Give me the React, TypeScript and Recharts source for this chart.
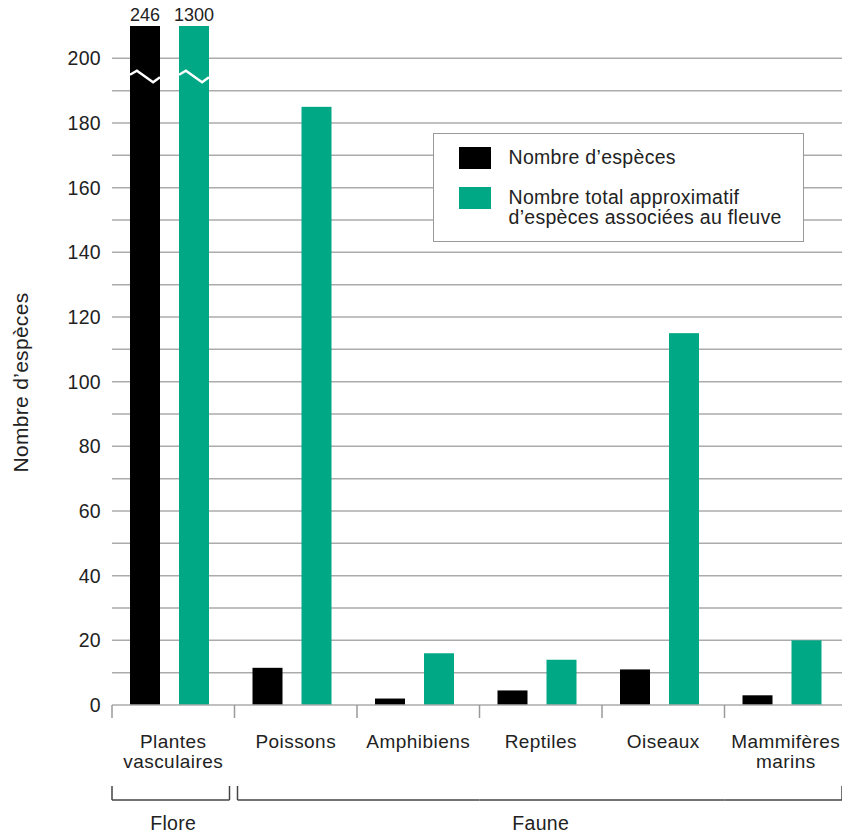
import React from 'react';
import { BarChart, Bar, XAxis, YAxis, CartesianGrid, Legend } from 'recharts';

const categories = ['Plantes\nvasculaires', 'Poissons', 'Amphibiens', 'Reptiles', 'Oiseaux', 'Mammifères\nmarins'];
const nombreEspeces = [246, 11.5, 2, 4.5, 11, 3];
const totalFleuve = [1300, 185, 16, 14, 115, 20];
const groups = [
  { label: 'Flore', first: 0, last: 0 },
  { label: 'Faune', first: 1, last: 5 },
];
const yTicks = [0, 20, 40, 60, 80, 100, 120, 140, 160, 180, 200];
const gridValues = [10, 20, 30, 40, 50, 60, 70, 80, 90, 100, 110, 120, 130, 140, 150, 160, 170, 180, 190, 200];
const AXIS_MAX = 210;
const BREAK_AT = 194.3;

const FONT = '"Liberation Sans", Arial, Helvetica, sans-serif';
const TEXT = '#222';
const GREEN = '#00A886';
const GRID = '#ababab';
const FS = 19.5;
const LS = 0.3;

// bars above the axis max are drawn cut off at the top, with the real value kept for the label
const data = categories.map((name, i) => ({
  name,
  especes: Math.min(nombreEspeces[i], AXIS_MAX),
  especesReel: nombreEspeces[i],
  total: Math.min(totalFleuve[i], AXIS_MAX),
  totalReel: totalFleuve[i],
}));

const makeShape = (realKey: string) => (props: any) => {
  const { x, y, width, height, fill, payload, value } = props;
  const bx = x - 4;
  const real = payload[realKey];
  const cut = real > AXIS_MAX;
  const pxPerUnit = value > 0 ? height / value : 0;
  const by = y + height - BREAK_AT * pxPerUnit;
  return (
    <g>
      <rect x={bx} y={y} width={width} height={height} fill={fill} />
      {cut && (
        <>
          <polyline
            points={`${bx},${by - 2} ${bx + width * 0.23},${by - 6} ${bx + width * 0.77},${by + 5.5} ${bx + width},${by + 0.5}`}
            fill="none"
            stroke="#fff"
            strokeWidth={2.5}
          />
          <text x={bx + width / 2} y={y - 5} textAnchor="middle" fontFamily={FONT} fontSize={18} fill={TEXT}>
            {real}
          </text>
        </>
      )}
    </g>
  );
};

const CategoryTick = (props: any) => {
  const { x, y, payload, index } = props;
  const half = payload.offset || 61;
  const left = x - half;
  const right = x + half;
  const lines = String(payload.value).split('\n');
  const group = groups.find(g => index >= g.first && index <= g.last)!;
  const isFirst = index === group.first;
  const isLast = index === group.last;
  const segLeft = left + (isFirst && index > 0 ? 3 : 0);
  const segRight = right - (isLast ? 5 : 0);
  const bracketY = y + 95;
  const groupCenter = left + ((group.last - group.first + 1) * half * 2) / 2;
  return (
    <g>
      <line x1={left} y1={y} x2={left} y2={y + 13} stroke="#9a9a9a" strokeWidth={1.5} />
      {lines.map((l, i) => (
        <text key={i} x={x} y={y + 42.5 + i * 20} textAnchor="middle" fontFamily={FONT} fontSize={19} letterSpacing={0.45} fill={TEXT}>
          {l}
        </text>
      ))}
      <line x1={segLeft} y1={bracketY} x2={segRight} y2={bracketY} stroke="#444" strokeWidth={1.5} />
      {isFirst && <line x1={segLeft} y1={bracketY - 14} x2={segLeft} y2={bracketY} stroke="#444" strokeWidth={1.5} />}
      {isLast && <line x1={segRight} y1={bracketY - 14} x2={segRight} y2={bracketY} stroke="#444" strokeWidth={1.5} />}
      {isFirst && (
        <text x={groupCenter} y={y + 125} textAnchor="middle" fontFamily={FONT} fontSize={FS} letterSpacing={LS} fill={TEXT}>
          {group.label}
        </text>
      )}
    </g>
  );
};

const LegendBox = (props: any) => {
  const items = props.payload || [];
  return (
    <div
      style={{
        width: 371,
        height: 109,
        boxSizing: 'border-box',
        border: '1.5px solid #9a9a9a',
        background: '#fff',
        position: 'relative',
        fontFamily: FONT,
        fontSize: FS,
        letterSpacing: LS,
        color: TEXT,
        lineHeight: '19.5px',
        textAlign: 'left',
      }}
    >
      {items.map((it: any, i: number) => (
        <React.Fragment key={i}>
          <div style={{ position: 'absolute', left: 24.5, top: i === 0 ? 12.8 : 52.8, width: 32, height: 22.5, background: it.color }} />
          <div style={{ position: 'absolute', left: 74.5, top: i === 0 ? 14.3 : 54.3, whiteSpace: 'pre' }}>{it.value}</div>
        </React.Fragment>
      ))}
    </div>
  );
};

export default function App() {
  return (
    <div style={{ position: 'absolute', left: 0, top: 0, width: 842, height: 834, overflow: 'hidden', background: '#fff' }}>
      <BarChart
        width={847}
        height={834}
        data={data}
        margin={{ top: 26, right: 0, left: 0, bottom: 0 }}
        barGap={19}
        barSize={30}
      >
        <CartesianGrid vertical={false} horizontalValues={gridValues} stroke={GRID} strokeWidth={1.5} />
        <XAxis
          dataKey="name"
          height={129}
          interval={0}
          tickLine={false}
          tickSize={0}
          tickMargin={0}
          axisLine={{ stroke: GRID, strokeWidth: 1.5 }}
          tick={<CategoryTick />}
        />
        <YAxis
          width={112}
          domain={[0, AXIS_MAX]}
          ticks={yTicks}
          interval={0}
          axisLine={false}
          tickLine={false}
          tickMargin={5}
          tick={{ fontFamily: FONT, fontSize: FS, letterSpacing: LS, fill: TEXT }}
          label={(p: any) => {
            const vb = p.viewBox || { x: 0, y: 26, width: 112, height: 679 };
            const cx = 20;
            const cy = vb.y + vb.height / 2 + 17;
            return (
              <text
                x={cx}
                y={cy}
                transform={`rotate(-90 ${cx} ${cy})`}
                textAnchor="middle"
                dominantBaseline="central"
                fontFamily={FONT}
                fontSize={21}
                letterSpacing={LS}
                fill={TEXT}
              >
                Nombre d’espèces
              </text>
            );
          }}
        />
        <Legend
          layout="horizontal"
          verticalAlign="middle"
          align="center"
          content={<LegendBox />}
          wrapperStyle={{ position: 'absolute', left: 433, top: 133, width: 371, height: 109 }}
        />
        <Bar dataKey="especes" name="Nombre d’espèces" fill="#000" isAnimationActive={false} shape={makeShape('especesReel')} />
        <Bar
          dataKey="total"
          name={'Nombre total approximatif\nd’espèces associées au fleuve'}
          fill={GREEN}
          isAnimationActive={false}
          shape={makeShape('totalReel')}
        />
      </BarChart>
    </div>
  );
}
